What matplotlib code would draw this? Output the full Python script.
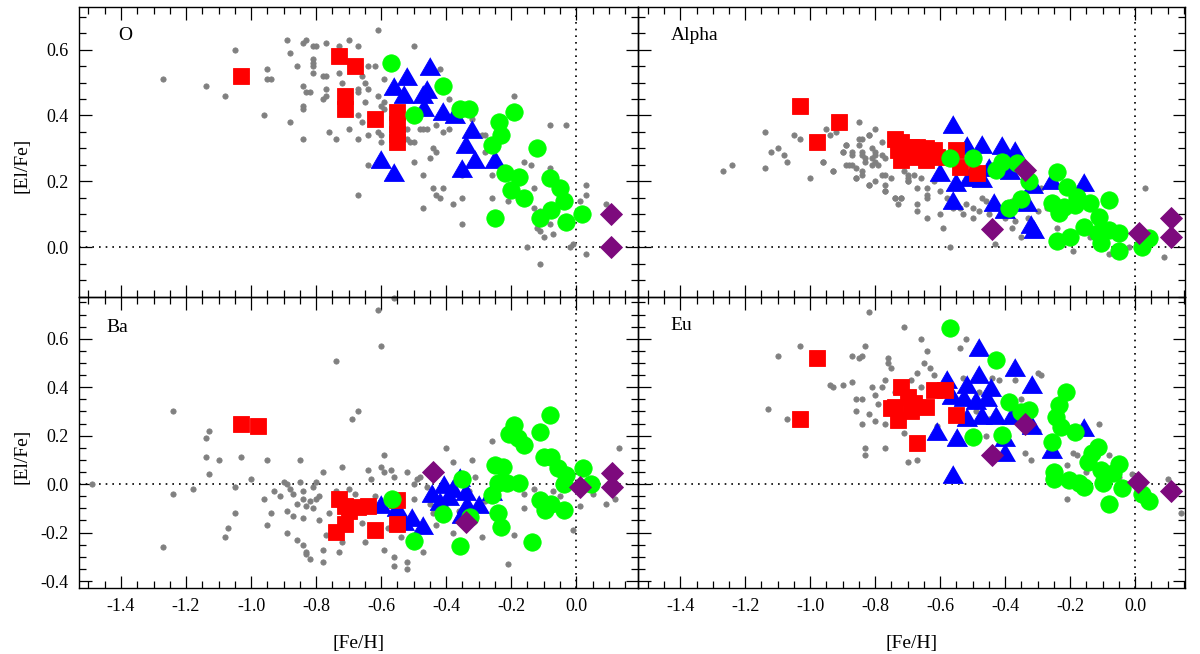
import numpy as np
import matplotlib
matplotlib.use('Agg')
import matplotlib.pyplot as plt
from matplotlib.ticker import MultipleLocator, FormatStrFormatter

plt.rcParams['font.family'] = ['Liberation Serif', 'DejaVu Serif']

# ---------------- O panel ----------------
o_grey = np.array([(-1.27,0.51),(-1.14,0.49),(-1.08,0.46),(-1.05,0.60),(-0.96,0.40),(-0.95,0.54),(-0.95,0.51),(-0.94,0.51),
    (-0.89,0.63),(-0.88,0.59),(-0.88,0.38),(-0.86,0.55),(-0.84,0.62),(-0.83,0.63),(-0.84,0.49),(-0.84,0.43),(-0.84,0.42),
    (-0.84,0.33),(-0.83,0.47),(-0.82,0.47),(-0.81,0.61),(-0.80,0.61),(-0.81,0.57),(-0.81,0.56),(-0.81,0.55),(-0.81,0.53),
    (-0.78,0.52),(-0.77,0.52),(-0.77,0.62),(-0.77,0.48),(-0.78,0.45),(-0.77,0.46),(-0.76,0.35),(-0.74,0.33),(-0.73,0.61),
    (-0.73,0.53),(-0.72,0.50),(-0.70,0.63),(-0.70,0.36),(-0.67,0.61),(-0.67,0.48),(-0.67,0.47),(-0.67,0.40),(-0.67,0.33),
    (-0.67,0.16),(-0.66,0.52),(-0.65,0.50),(-0.65,0.44),(-0.66,0.38),(-0.64,0.55),(-0.62,0.55),(-0.64,0.48),(-0.64,0.34),
    (-0.64,0.25),(-0.61,0.66),(-0.61,0.46),(-0.61,0.35),(-0.60,0.34),(-0.60,0.32),(-0.60,0.43),(-0.59,0.51),(-0.59,0.44),
    (-0.59,0.42),(-0.56,-0.155),(-0.52,0.36),(-0.52,0.33),(-0.51,0.32),(-0.50,0.32),(-0.50,0.61),(-0.50,0.26),(-0.48,0.36),
    (-0.47,0.36),(-0.47,0.22),(-0.47,0.12),(-0.46,0.36),(-0.45,0.27),(-0.44,0.30),(-0.43,0.29),(-0.44,0.18),(-0.43,0.16),
    (-0.42,0.15),(-0.41,0.18),(-0.43,0.37),(-0.41,0.35),(-0.39,0.45),(-0.39,0.36),(-0.42,0.54),(-0.38,0.13),(-0.35,0.15),
    (-0.35,0.07),(-0.35,0.22),(-0.32,0.39),(-0.29,0.34),(-0.28,0.34),(-0.28,0.29),(-0.26,0.22),(-0.26,0.15),(-0.21,0.14),
    (-0.19,0.46),(-0.16,0.26),(-0.14,0.25),(-0.13,0.18),(-0.13,0.12),(-0.11,0.11),(-0.15,0.0),(-0.12,0.06),(-0.11,0.05),
    (-0.10,0.03),(-0.11,-0.05),(-0.08,0.37),(-0.08,0.24),(-0.08,0.07),(-0.07,0.04),(-0.03,0.37),(-0.02,0.0),(-0.01,0.01),
    (0.01,0.14),(0.03,0.19),(0.03,0.16),(0.03,-0.02),(0.09,0.13)])
o_red = np.array([(-1.03,0.52),(-0.73,0.58),(-0.68,0.55),(-0.71,0.46),(-0.71,0.42),(-0.62,0.39),
    (-0.55,0.41),(-0.55,0.375),(-0.55,0.345),(-0.55,0.32)])
o_blue = np.array([(-0.45,0.54),(-0.52,0.51),(-0.56,0.48),(-0.53,0.456),(-0.47,0.456),(-0.467,0.416),(-0.41,0.406),
    (-0.373,0.396),(-0.46,0.47),(-0.32,0.35),(-0.34,0.305),(-0.31,0.26),(-0.25,0.26),(-0.35,0.23),(-0.60,0.26),(-0.56,0.22)])
o_green = np.array([(-0.571,0.56),(-0.50,0.40),(-0.41,0.49),(-0.357,0.42),(-0.33,0.42),(-0.238,0.38),(-0.23,0.34),
    (-0.19,0.41),(-0.258,0.31),(-0.12,0.30),(-0.22,0.224),(-0.176,0.214),(-0.20,0.174),(-0.16,0.15),(-0.249,0.088),
    (-0.082,0.21),(-0.05,0.18),(-0.038,0.14),(-0.077,0.113),(-0.11,0.088),(-0.03,0.078),(0.019,0.10)])
o_purple = np.array([(0.108,0.10),(0.108,0.0)])

# ---------------- Alpha panel ----------------
a_grey = np.array([(-1.27,0.23),(-1.24,0.25),(-1.14,0.35),(-1.14,0.24),(-1.12,0.29),(-1.10,0.30),(-1.08,0.28),(-1.07,0.26),
    (-1.05,0.34),(-1.03,0.33),(-1.00,0.21),(-0.96,0.26),(-0.95,0.36),(-0.94,0.34),(-0.93,0.23),(-0.90,0.29),(-0.89,0.31),
    (-0.88,0.25),(-0.87,0.29),(-0.86,0.21),(-0.85,0.38),(-0.85,0.33),(-0.84,0.33),(-0.84,0.28),(-0.84,0.23),(-0.83,0.26),
    (-0.82,0.34),(-0.82,0.19),(-0.81,0.30),(-0.81,0.27),(-0.80,0.36),(-0.80,0.28),(-0.78,0.22),(-0.77,0.17),(-0.74,0.15),
    (-0.73,0.13),(-0.72,0.15),(-0.70,0.22),(-0.70,0.20),(-0.67,0.11),(-0.67,0.13),(-0.64,0.09),(-0.64,0.15),(-0.64,0.18),
    (-0.60,0.17),(-0.60,0.10),(-0.59,0.06),(-0.57,0.0),(-0.54,0.12),(-0.52,0.13),(-0.50,0.09),(-0.48,0.11),(-0.47,0.15),
    (-0.46,0.14),(-0.43,0.01),(-0.40,0.09),(-0.38,0.06),(-0.37,0.08),(-0.35,0.03),(-0.30,0.11),(-0.29,0.18),(-0.19,-0.01),
    (-0.14,0.03),(-0.08,-0.02),(-0.02,0.0),(0.03,0.18),(0.09,-0.03),
    (-0.92,0.35),(-0.96,0.26),(-0.93,0.23),(-0.89,0.31),(-0.90,0.29),(-0.87,0.28),(-0.85,0.31),(-0.84,0.29),(-0.83,0.27),
    (-0.82,0.34),(-0.81,0.25),(-0.80,0.29),(-0.80,0.26),(-0.78,0.32),(-0.78,0.28),(-0.77,0.27),(-0.79,0.25),(-0.89,0.25),
    (-0.87,0.25),(-0.86,0.24),(-0.84,0.22),(-0.86,0.21),(-0.82,0.19),(-0.80,0.20),(-0.77,0.22),(-0.77,0.19),(-0.77,0.17),
    (-0.75,0.21),(-0.74,0.15),(-0.72,0.15),(-0.71,0.23),(-0.70,0.21),(-0.68,0.22),(-0.66,0.21),(-0.70,0.20),(-0.67,0.18),
    (-0.64,0.16),(-0.62,0.20),(-0.58,0.15),(-0.56,0.12),(-0.53,0.10),(-0.50,0.12),(-0.45,0.10),(-0.42,0.12),(-0.38,0.14),
    (-0.33,0.09),(-0.27,0.12),(-0.24,0.06),(-0.10,0.02),(-0.05,-0.01)])
a_red = np.array([(-1.03,0.43),(-0.98,0.32),(-0.91,0.38),(-0.74,0.33),(-0.72,0.32),(-0.69,0.305),(-0.67,0.305),
    (-0.645,0.30),(-0.62,0.295),(-0.72,0.265),(-0.68,0.275),(-0.645,0.265),(-0.61,0.275),(-0.55,0.295),(-0.54,0.245),
    (-0.486,0.224),(-0.73,0.295),(-0.70,0.28)])
a_blue = np.array([(-0.56,0.366),(-0.516,0.30),(-0.47,0.305),(-0.41,0.30),(-0.37,0.285),(-0.60,0.22),(-0.55,0.19),
    (-0.51,0.204),(-0.47,0.20),(-0.56,0.135),(-0.433,0.128),(-0.40,0.108),(-0.333,0.128),(-0.386,0.224),(-0.315,0.184),
    (-0.32,0.063),(-0.31,0.047),(-0.257,0.194),(-0.157,0.19),(-0.45,0.234)])
a_green = np.array([(-0.569,0.27),(-0.498,0.27),(-0.427,0.234),(-0.41,0.26),(-0.363,0.255),(-0.327,0.20),(-0.35,0.148),
    (-0.389,0.118),(-0.239,0.229),(-0.21,0.184),(-0.18,0.153),(-0.257,0.133),(-0.233,0.103),(-0.139,0.133),(-0.08,0.143),
    (-0.11,0.093),(-0.157,0.063),(-0.20,0.032),(-0.239,0.02),(-0.115,0.042),(-0.08,0.053),(-0.05,0.042),(-0.104,0.012),
    (-0.05,-0.01),(0.02,0.0),(0.044,0.027),(-0.22,0.123),(-0.186,0.128)])
a_purple = np.array([(-0.34,0.234),(-0.44,0.055),(0.012,0.044),(0.11,0.09),(0.11,0.03)])

# ---------------- Ba panel ----------------
b_grey = np.array([(-1.49,0.0),(-1.27,-0.26),(-1.24,0.30),(-1.24,-0.04),(-1.18,-0.02),(-1.14,0.19),(-1.13,0.22),
    (-1.14,0.11),(-1.13,0.04),(-1.10,0.10),(-1.08,-0.22),(-1.07,-0.18),(-1.05,-0.01),(-1.05,-0.12),(-1.03,0.11),
    (-1.00,0.02),(-0.96,-0.06),(-0.95,0.10),(-0.95,-0.17),(-0.94,-0.12),(-0.93,-0.03),(-0.90,0.01),(-0.89,0.0),
    (-0.89,-0.11),(-0.89,-0.20),(-0.88,-0.02),(-0.87,-0.13),(-0.86,-0.08),(-0.86,-0.23),(-0.85,0.10),(-0.85,0.01),
    (-0.84,-0.03),(-0.84,-0.06),(-0.84,-0.14),(-0.84,-0.25),(-0.83,-0.28),(-0.83,-0.29),(-0.82,-0.31),(-0.82,-0.07),
    (-0.81,-0.10),(-0.81,-0.01),(-0.80,0.01),(-0.80,-0.06),(-0.79,-0.15),(-0.78,0.05),(-0.78,-0.27),(-0.78,-0.32),
    (-0.77,-0.21),(-0.74,0.51),(-0.72,0.07),(-0.73,-0.28),(-0.72,-0.24),(-0.69,0.27),(-0.67,0.30),(-0.68,-0.04),
    (-0.65,-0.24),(-0.64,0.06),(-0.63,0.02),(-0.61,0.72),(-0.60,0.57),(-0.59,0.12),(-0.60,0.07),(-0.59,0.05),(-0.59,-0.27),
    (-0.57,0.06),(-0.56,0.03),(-0.56,-0.30),(-0.56,-0.34),(-0.52,0.05),(-0.52,-0.32),(-0.52,-0.35),(-0.50,0.0),(-0.49,0.02),
    (-0.48,0.03),(-0.45,-0.08),(-0.44,-0.12),(-0.43,-0.17),(-0.40,0.15),(-0.38,0.09),(-0.38,-0.20),(-0.31,0.03),(-0.32,0.10),
    (-0.29,-0.22),(-0.26,0.18),(-0.21,-0.33),(-0.19,-0.21),(-0.16,-0.04),(-0.16,-0.10),(-0.13,-0.02),(-0.12,-0.06),
    (-0.07,-0.03),(-0.01,-0.19),(0.01,-0.09),(0.09,-0.08),(0.12,-0.06),(0.13,0.15),
    (-0.91,-0.05),(-0.87,-0.04),(-0.83,-0.09),(-0.79,-0.05),(-0.76,-0.12),(-0.74,-0.03),(-0.70,-0.02),(-0.66,-0.16),
    (-0.62,-0.05),(-0.58,-0.18),(-0.54,-0.22),(-0.50,-0.06),(-0.47,-0.28),(-0.46,-0.01),(-0.42,-0.06),(-0.36,-0.11),
    (-0.33,-0.03),(-0.28,-0.07),(-0.24,-0.13),(-0.10,-0.09),(-0.05,-0.05),(0.05,-0.04)])
b_red = np.array([(-1.03,0.25),(-0.98,0.24),(-0.73,-0.06),(-0.71,-0.09),(-0.67,-0.094),(-0.64,-0.09),(-0.71,-0.163),
    (-0.74,-0.197),(-0.62,-0.19),(-0.55,-0.066),(-0.55,-0.163),(-0.70,-0.11)])
b_blue = np.array([(-0.60,-0.094),(-0.55,-0.107),(-0.505,-0.149),(-0.47,-0.183),(-0.53,-0.163),(-0.445,-0.05),
    (-0.406,-0.01),(-0.357,0.017),(-0.34,-0.039),(-0.39,-0.06),(-0.335,-0.094),(-0.30,-0.094),(-0.35,-0.135),
    (-0.258,-0.039),(-0.42,-0.08),(-0.38,-0.03)])
b_green = np.array([(-0.567,-0.06),(-0.50,-0.234),(-0.41,-0.124),(-0.35,0.023),(-0.357,-0.256),(-0.326,-0.135),
    (-0.25,0.078),(-0.225,0.072),(-0.24,0.003),(-0.258,-0.045),(-0.24,-0.12),(-0.23,-0.176),(-0.214,0.003),(-0.176,0.003),
    (-0.208,0.209),(-0.19,0.244),(-0.18,0.19),(-0.16,0.16),(-0.11,0.216),(-0.08,0.285),(-0.137,-0.238),(-0.10,0.113),
    (-0.11,-0.066),(-0.077,-0.08),(-0.095,-0.107),(-0.077,0.113),(-0.055,0.065),(-0.033,0.037),(-0.038,0.0),
    (-0.038,-0.107),(0.02,0.065),(0.045,0.0)])
b_purple = np.array([(-0.44,0.051),(-0.34,-0.156),(0.01,-0.011),(0.11,0.044),(0.11,-0.011)])

# ---------------- Eu panel ----------------
e_grey = np.array([(-1.13,0.31),(-1.10,0.53),(-1.07,0.27),(-1.03,0.57),(-0.94,0.41),(-0.93,0.40),(-0.90,0.41),
    (-0.87,0.42),(-0.86,0.30),(-0.87,0.53),(-0.85,0.52),(-0.84,0.53),(-0.83,0.57),(-0.86,0.35),(-0.84,0.35),(-0.84,0.25),
    (-0.83,0.15),(-0.83,0.12),(-0.82,0.71),(-0.81,0.40),(-0.80,0.37),(-0.80,0.26),(-0.78,0.40),(-0.77,0.15),(-0.77,0.25),
    (-0.76,0.52),(-0.76,0.50),(-0.75,0.48),(-0.71,0.65),(-0.71,0.21),(-0.70,0.09),(-0.67,0.46),(-0.67,0.10),(-0.66,0.60),
    (-0.65,0.50),(-0.64,0.55),(-0.63,0.48),(-0.61,0.24),(-0.54,0.56),(-0.52,0.60),(-0.49,0.30),(-0.46,0.20),(-0.44,0.44),
    (-0.42,0.43),(-0.40,0.33),(-0.37,0.43),(-0.35,0.35),(-0.34,0.13),(-0.32,0.10),(-0.30,0.46),(-0.29,0.45),(-0.21,0.08),
    (-0.21,-0.06),(-0.19,0.13),(-0.18,0.12),(-0.11,0.25),(-0.08,0.12),(-0.01,0.04),(0.10,0.02),(0.14,-0.12),
    (-0.79,0.33),(-0.82,0.29),(-0.77,0.43),(-0.74,0.38),(-0.69,0.43),(-0.66,0.40),(-0.62,0.45),(-0.58,0.38),(-0.56,0.27),
    (-0.53,0.44),(-0.48,0.38),(-0.45,0.27),(-0.39,0.20),(-0.30,0.22),(-0.25,0.18),(-0.15,0.05),(-0.05,0.03)])
e_red = np.array([(-0.98,0.52),(-1.03,0.27),(-0.72,0.40),(-0.74,0.32),(-0.70,0.36),(-0.68,0.333),(-0.73,0.264),
    (-0.67,0.168),(-0.645,0.32),(-0.62,0.388),(-0.586,0.388),(-0.55,0.285),(-0.75,0.313),(-0.69,0.30)])
e_blue = np.array([(-0.48,0.554),(-0.37,0.47),(-0.318,0.40),(-0.58,0.423),(-0.48,0.443),(-0.516,0.40),(-0.445,0.388),
    (-0.563,0.354),(-0.527,0.347),(-0.49,0.333),(-0.457,0.347),(-0.516,0.264),(-0.47,0.271),(-0.427,0.271),(-0.38,0.271),
    (-0.316,0.23),(-0.61,0.209),(-0.549,0.182),(-0.40,0.182),(-0.40,0.12),(-0.257,0.134),(-0.157,0.223),(-0.56,0.03)])
e_green = np.array([(-0.569,0.643),(-0.427,0.512),(-0.389,0.34),(-0.41,0.202),(-0.498,0.196),(-0.351,0.299),
    (-0.327,0.306),(-0.212,0.381),(-0.233,0.326),(-0.245,0.278),(-0.227,0.237),(-0.186,0.216),(-0.257,0.175),
    (-0.115,0.154),(-0.133,0.127),(-0.145,0.092),(-0.104,0.058),(-0.05,0.085),(-0.068,0.044),(-0.25,0.051),(-0.25,0.023),
    (-0.204,0.017),(-0.174,0.003),(-0.157,-0.011),(-0.098,0.003),(-0.039,-0.018),(-0.08,-0.08),(0.02,-0.041),(0.044,-0.069)])
e_purple = np.array([(-0.34,0.25),(-0.44,0.12),(0.008,0.01),(0.11,-0.028)])

panels = [
    ('O', [o_grey, o_blue, o_red, o_green, o_purple]),
    ('Alpha', [a_grey, a_blue, a_red, a_green, a_purple]),
    ('Ba', [b_grey, b_blue, b_red, b_green, b_purple]),
    ('Eu', [e_grey, e_blue, e_red, e_green, e_purple]),
]

tri = [(0, 0.577), (-0.5, -0.289), (0.5, -0.289)]
styles = [
    dict(marker='o', color='#808080', ms=3.8),
    dict(marker=tri, color='#0000ff', ms=17),
    dict(marker='s', color='#ff0000', ms=11.5),
    dict(marker='o', color='#00ff00', ms=12.5),
    dict(marker='D', color='#7d0a7d', ms=11),
]

fig = plt.figure(figsize=(12, 6.54), dpi=100)
# axes rectangles (figure fraction)
rects = [
    [0.0656, 0.5463, 0.4661, 0.4434],
    [0.5317, 0.5463, 0.4562, 0.4434],
    [0.0656, 0.1005, 0.4661, 0.4459],
    [0.5317, 0.1005, 0.4562, 0.4459],
]
xlims = [(-1.53, 0.19), (-1.53, 0.155), (-1.53, 0.19), (-1.53, 0.155)]
ylims = [(-0.15, 0.73), (-0.15, 0.73), (-0.43, 0.774), (-0.43, 0.774)]
label_pos = [(0.070, 0.90), (0.060, 0.90), (0.049, 0.895), (0.060, 0.90)]

for i, (name, groups) in enumerate(panels):
    ax = fig.add_axes(rects[i])
    ax.set_facecolor('none')
    ax.axhline(0, color='k', lw=1.2, ls=(0, (1, 3)), zorder=1)
    ax.axvline(0, color='k', lw=1.2, ls=(0, (1, 3)), zorder=1)
    for pts, st in zip(groups, styles):
        ax.plot(pts[:, 0], pts[:, 1], ls='none', marker=st['marker'], ms=st['ms'],
                color=st['color'], mec=st['color'], mew=0.6, clip_on=False, zorder=2)
    ax.set_xlim(*xlims[i])
    ax.set_ylim(*ylims[i])
    ax.xaxis.set_major_locator(MultipleLocator(0.2))
    ax.xaxis.set_minor_locator(MultipleLocator(0.05))
    ax.yaxis.set_major_locator(MultipleLocator(0.2))
    ax.yaxis.set_minor_locator(MultipleLocator(0.05))
    ax.xaxis.set_major_formatter(FormatStrFormatter('%.1f'))
    ax.yaxis.set_major_formatter(FormatStrFormatter('%.1f'))
    ax.tick_params(which='both', direction='in', top=True, right=True, labelsize=13, width=0.9)
    ax.tick_params(which='major', length=9, pad=7)
    ax.tick_params(which='minor', length=5)
    for sp in ax.spines.values():
        sp.set_linewidth(1.0)
    ax.text(label_pos[i][0], label_pos[i][1], name, transform=ax.transAxes,
            fontsize=14, ha='left', va='center')
    if i % 2 == 1:
        ax.tick_params(labelleft=False)
    else:
        ax.set_ylabel('[El/Fe]', fontsize=14)
        ax.yaxis.set_label_coords(-0.087, 0.453)
    if i < 2:
        ax.tick_params(labelbottom=False)
    else:
        ax.set_xlabel('[Fe/H]', fontsize=14)
        ax.xaxis.set_label_coords(0.5, -0.16)

fig.savefig('out.png', dpi=100)
